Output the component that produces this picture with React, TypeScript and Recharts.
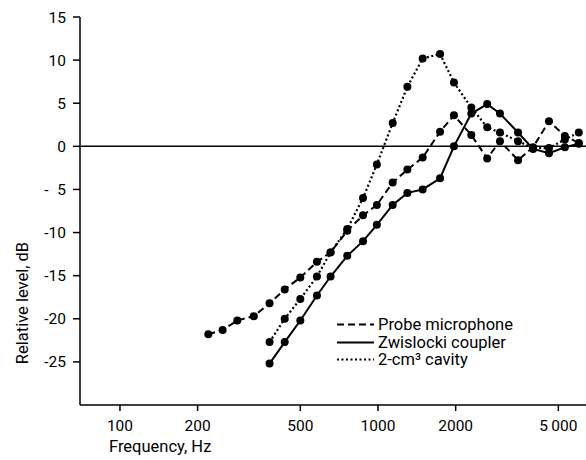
import React from 'react'
import {
  LineChart,
  Line,
  XAxis,
  YAxis,
  ReferenceLine,
  Label,
} from 'recharts'

// frequency points (Hz)
const freq = [
  220, 250, 285, 330, 380, 435, 500, 580, 655, 760, 875, 990, 1140, 1300,
  1490, 1740, 1970, 2300, 2650, 2970, 3490, 3990, 4600, 5300, 6000,
]

const probeMic = [
  -21.8, -21.3, -20.2, -19.7, -18.2, -16.6, -15.2, -13.4, -12.3, -9.8, -8.0,
  -6.8, -4.2, -2.7, -1.3, 1.7, 3.6, 1.3, -1.4, 0.6, -1.6, -0.1, 2.9, 1.2, 0.4,
]

const zwislocki = [
  null, null, null, null, -25.2, -22.7, -20.2, -17.3, -15.1, -12.7, -11.0,
  -9.1, -6.8, -5.4, -5.0, -3.7, 0.0, 3.8, 4.9, 3.8, 1.6, -0.3, -0.8, -0.1,
  0.3,
]

const cavity = [
  null, null, null, null, -22.7, -20.0, -17.7, -15.1, -12.3, -9.6, -6.0, -2.1,
  2.7, 6.9, 10.2, 10.7, 7.4, 4.5, 2.2, 1.6, 0.6, -0.2, -0.2, 0.8, 1.6,
]

const xTicks = [100, 200, 500, 1000, 2000, 5000]
const yTicks = [-25, -20, -15, -10, -5, 0, 5, 10, 15]

const data = freq.map((f, i) => ({
  f,
  probe: probeMic[i],
  zwislocki: zwislocki[i],
  cavity: cavity[i],
}))

const FONT = 'Roboto, "DejaVu Sans", sans-serif'
const tickStyle = { fill: '#000', fontSize: 15.5, fontFamily: FONT }

const fmtY = (v: number) => {
  if (v >= 0) return String(v)
  const a = Math.abs(v)
  return a < 10 ? '-\u2007' + a : '-' + a
}

const fmtX = (v: number) => (v === 5000 ? '5\u2009000' : String(v))

const dot = { r: 4, fill: '#000', stroke: '#000', strokeWidth: 0, strokeDasharray: '0' }

const legendRows = [
  { name: 'Probe microphone', dash: '7 4' },
  { name: 'Zwislocki coupler', dash: undefined },
  { name: '2-cm\u00b3 cavity', dash: '2 2.5' },
]

const App = () => {
  return (
    <div
      style={{
        position: 'absolute',
        left: 0,
        top: 0,
        width: 586,
        height: 460,
        background: '#fff',
        fontFamily: FONT,
      }}
    >
      <LineChart
        width={586}
        height={460}
        data={data}
        margin={{ top: 17, right: 0, left: 0, bottom: 0 }}
      >
        <XAxis
          dataKey='f'
          type='number'
          scale='log'
          domain={[70, 6400]}
          allowDataOverflow
          ticks={xTicks}
          tickFormatter={fmtX}
          tick={tickStyle}
          tickSize={6}
          tickMargin={9}
          height={55}
          stroke='#000'
          strokeWidth={1.5}
        >
          <Label
            content={() => (
              <text x={109} y={452} fill='#000' fontSize={16.5} fontFamily={FONT}>
                Frequency, Hz
              </text>
            )}
          />
        </XAxis>
        <YAxis
          type='number'
          domain={[-30, 15]}
          ticks={yTicks}
          tickFormatter={fmtY}
          tick={tickStyle}
          tickSize={7}
          tickMargin={7}
          width={80}
          stroke='#000'
          strokeWidth={1.5}
        >
          <Label
            content={() => (
              <text
                x={22}
                y={303}
                fill='#000'
                fontSize={16.5}
                fontFamily={FONT}
                textAnchor='middle'
                dominantBaseline='central'
                transform='rotate(-90 22 303)'
              >
                Relative level, dB
              </text>
            )}
          />
        </YAxis>
        <ReferenceLine y={0} stroke='#000' strokeWidth={1.5} />
        <Line
          dataKey='probe'
          type='linear'
          stroke='#000'
          strokeWidth={2}
          strokeDasharray='7 4'
          dot={dot}
          activeDot={false}
          isAnimationActive={false}
        />
        <Line
          dataKey='zwislocki'
          type='linear'
          stroke='#000'
          strokeWidth={2}
          dot={dot}
          activeDot={false}
          isAnimationActive={false}
        />
        <Line
          dataKey='cavity'
          type='linear'
          stroke='#000'
          strokeWidth={2.2}
          strokeDasharray='2 2.5'
          dot={dot}
          activeDot={false}
          isAnimationActive={false}
        />
      </LineChart>
      <div
        style={{
          position: 'absolute',
          left: 337,
          top: 316,
          fontSize: 16.5,
          lineHeight: '17.5px',
          color: '#000',
        }}
      >
        {legendRows.map((r) => (
          <div key={r.name} style={{ display: 'flex', alignItems: 'center', height: 17.5 }}>
            <svg width={37} height={17} style={{ marginRight: 4 }}>
              <line
                x1={0}
                y1={8.5}
                x2={37}
                y2={8.5}
                stroke='#000'
                strokeWidth={2}
                strokeDasharray={r.dash}
              />
            </svg>
            <span>{r.name}</span>
          </div>
        ))}
      </div>
    </div>
  )
}

export default App
